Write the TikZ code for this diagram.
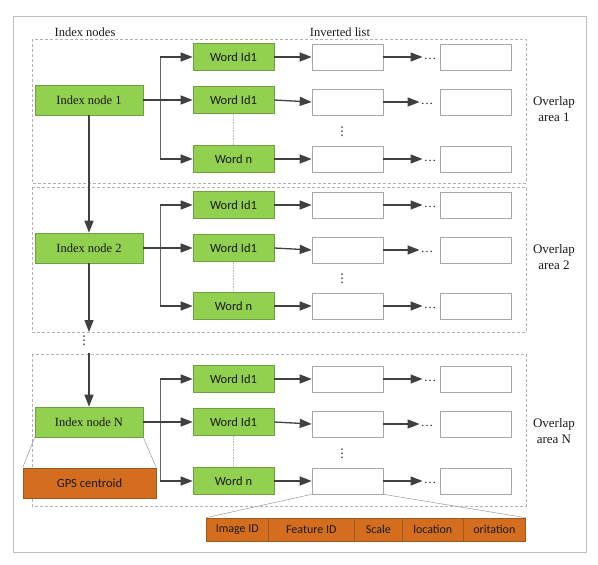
\documentclass[tikz,border=0pt]{standalone}
\usepackage{fontspec}
\setmainfont{Liberation Serif}
\newfontfamily\calib{Carlito}
\newfontfamily\djv{DejaVu Sans}
\usetikzlibrary{arrows.meta}
\definecolor{gfill}{HTML}{92D050}
\definecolor{gline}{HTML}{6E9E45}
\definecolor{ofill}{HTML}{D46E1E}
\definecolor{oline}{HTML}{9C5A22}
\definecolor{arr}{HTML}{404040}
\definecolor{boxl}{HTML}{A6A6A6}
\definecolor{txt}{HTML}{1A1A1A}
\begin{document}
\begin{tikzpicture}[x=1pt,y=-1pt,
  every node/.style={font=\fontsize{12.5}{14}\selectfont, text=txt},
  idxbox/.style={draw=gline, fill=gfill, line width=0.6pt, minimum width=108pt, minimum height=30pt, inner sep=0pt},
  wordbox/.style={draw=gline, fill=gfill, line width=0.6pt, minimum width=81pt, minimum height=27pt, inner sep=0pt, font=\calib\fontsize{12.5}{14}\selectfont},
  invbox/.style={draw=boxl, fill=white, line width=0.6pt, minimum width=71pt, minimum height=26pt, inner sep=0pt},
  obox/.style={draw=oline, fill=ofill, line width=0.6pt, inner sep=0pt, font=\calib\fontsize{12.5}{14}\selectfont},
  cellbox/.style={draw=oline, fill=ofill, line width=0.6pt, inner sep=0pt, minimum height=23pt, anchor=west, font=\calib\fontsize{12}{14}\selectfont},
  arrowln/.style={draw=arr, line width=1.3pt, -{Triangle[length=12pt,width=9pt]}},
  thinv/.style={draw=arr!80, line width=0.7pt},
  dotv/.style={draw=gray!50, line width=0.6pt, densely dotted},
  areadash/.style={draw=gray!60, line width=0.5pt, densely dashed},
  thing/.style={draw=gray!80, line width=0.5pt},
  dotsn/.style={inner sep=1pt, anchor=base},
  vdotsn/.style={inner sep=0pt, font=\djv\fontsize{12}{12}\selectfont}
]
\useasboundingbox (0,0) rectangle (598,565);
\draw[draw=gray!50, line width=0.8pt] (13,16) rectangle (586,552);

\node (h1) at (85,32) {Index nodes};
\node (h2) at (340,32) {Inverted list};

\foreach \k/\ya/\yb/\yc/\tp/\bt in {1/57/100/159/39/183, 2/205/248/306/187/332, N/379/422/481/354/506} {
  \draw[areadash] (32,\tp) rectangle (526,\bt);
  \node[idxbox] (idx\k) at (89,\yb) {Index node \k};
  \node[wordbox] (wa\k) at (233.5,\ya) {Word Id1};
  \node[wordbox] (wb\k) at (233.5,\yb) {Word Id1};
  \node[wordbox] (wc\k) at (233.5,\yc) {Word n};
  \coordinate (ba\k) at (160,\ya);
  \coordinate (bc\k) at (160,\yc);
  \draw[thinv] (ba\k) -- (bc\k);
  \draw[arrowln] (idx\k.east) -- (wb\k.west);
  \draw[arrowln] (ba\k) -- (wa\k.west);
  \draw[arrowln] (bc\k) -- (wc\k.west);
  \draw[dotv] (wb\k.south) -- (wc\k.north);
  \foreach \r/\yy/\dx in {a/\ya/430, b/\yb+2/427, c/\yc/430} {
    \node[invbox] (i\r\k) at (347.5,\yy) {};
    \node[invbox] (j\r\k) at (475.5,\yy) {};
    \node[dotsn] (d\r\k) at (\dx,\yy+2) {\ldots};
    \draw[arrowln] (w\r\k.east) -- (i\r\k.west);
    \draw[arrowln] (i\r\k.east) -- (d\r\k.west |- i\r\k.east);
  }
  \node[vdotsn] (vd\k) at (342,{(\yb+\yc)/2+2}) {⋮};
  \node[align=center, font=\fontsize{13}{16}\selectfont] (ov\k) at (554,\yb+9) {Overlap\\area \k};
}

\draw[arrowln] (idx1.south) -- (idx2.north);
\coordinate (e2) at (89,332);
\draw[arrowln] (idx2.south) -- (e2);
\node[vdotsn] (vdi) at (84,341) {⋮};
\coordinate (sN) at (89,353);
\draw[arrowln] (sN) -- (idxN.north);

\node[obox, minimum width=133pt, minimum height=30pt] (gps) at (89.5,483) {GPS centroid};
\draw[thing] (idxN.south west) -- (gps.north west);
\draw[thing] (idxN.south east) -- (gps.north east);

\node[cellbox, minimum width=62pt] (c1) at (206,529.5) {Image ID};
\node[cellbox, minimum width=86pt] (c2) at (268,529.5) {Feature ID};
\node[cellbox, minimum width=48pt] (c3) at (354,529.5) {Scale};
\node[cellbox, minimum width=61pt] (c4) at (402,529.5) {location};
\node[cellbox, minimum width=62pt] (c5) at (463,529.5) {oritation};
\draw[thing] (icN.south west) -- (c1.north west);
\draw[thing] (icN.south east) -- (c5.north east);
\end{tikzpicture}
\end{document}
